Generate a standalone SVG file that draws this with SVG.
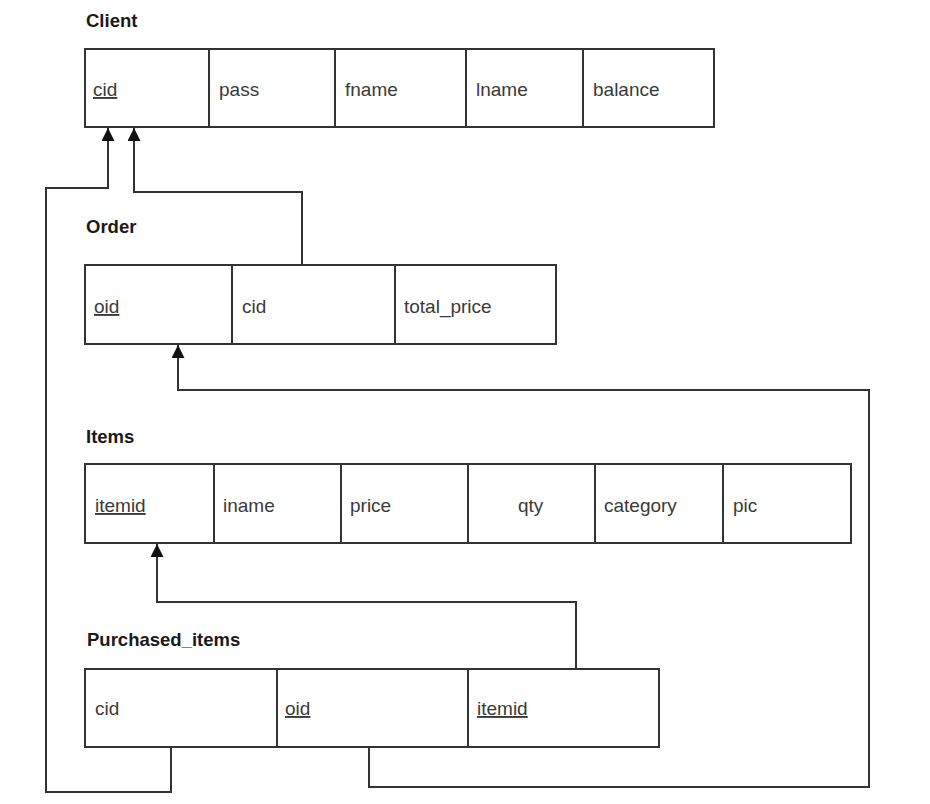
<svg xmlns="http://www.w3.org/2000/svg" width="930" height="804" viewBox="0 0 930 804">
<style>
.title{font-family:"Liberation Sans",Arial,sans-serif;font-weight:bold;font-size:18.5px;fill:#1a1a1a}
.fld{font-family:"Liberation Sans",Arial,sans-serif;font-size:19px;fill:#3a3a3a}
.key{text-decoration:underline}
.box{fill:#fff;stroke:#333;stroke-width:2}
.div{stroke:#333;stroke-width:2}
.conn{fill:none;stroke:#333;stroke-width:2;marker-end:url(#arr)}
</style>
<defs>
<marker id="arr" markerUnits="userSpaceOnUse" markerWidth="14" markerHeight="14" refX="13" refY="6.5" orient="auto">
<path d="M0,0 L13,6.5 L0,13 z" fill="#111"/>
</marker>
</defs>
<rect width="930" height="804" fill="#fff"/>
<g id="connectors">
<path class="conn" d="M171,747 V792 H46 V188 H108 V128"/>
<path class="conn" d="M302,265 V192 H134 V128"/>
<path class="conn" d="M369,747 V787 H869 V390 H178 V345"/>
<path class="conn" d="M576,669 V602 H157 V544"/>
</g>
<g id="client">
<text class="title" x="86" y="27">Client</text>
<rect class="box" x="85" y="49" width="629" height="78"/>
<path class="div" d="M209,49 V127 M335,49 V127 M466,49 V127 M583,49 V127"/>
<text class="fld key" x="93" y="96">cid</text>
<text class="fld" x="219" y="96">pass</text>
<text class="fld" x="345" y="96">fname</text>
<text class="fld" x="476" y="96">lname</text>
<text class="fld" x="593" y="96">balance</text>
</g>
<g id="order">
<text class="title" x="86" y="233">Order</text>
<rect class="box" x="85" y="265" width="471" height="79"/>
<path class="div" d="M232,265 V344 M395,265 V344"/>
<text class="fld key" x="94" y="313">oid</text>
<text class="fld" x="242" y="313">cid</text>
<text class="fld" x="404" y="313">total_price</text>
</g>
<g id="items">
<text class="title" x="86" y="443">Items</text>
<rect class="box" x="85" y="464" width="766" height="79"/>
<path class="div" d="M214,464 V543 M341,464 V543 M468,464 V543 M595,464 V543 M723,464 V543"/>
<text class="fld key" x="95" y="512">itemid</text>
<text class="fld" x="223" y="512">iname</text>
<text class="fld" x="350" y="512">price</text>
<text class="fld" x="518" y="512">qty</text>
<text class="fld" x="604" y="512">category</text>
<text class="fld" x="733" y="512">pic</text>
</g>
<g id="purchased_items">
<text class="title" x="87" y="646">Purchased_items</text>
<rect class="box" x="85" y="669" width="574" height="78"/>
<path class="div" d="M277,669 V747 M468,669 V747"/>
<text class="fld" x="95" y="715">cid</text>
<text class="fld key" x="285" y="715">oid</text>
<text class="fld key" x="477" y="715">itemid</text>
</g>
</svg>
